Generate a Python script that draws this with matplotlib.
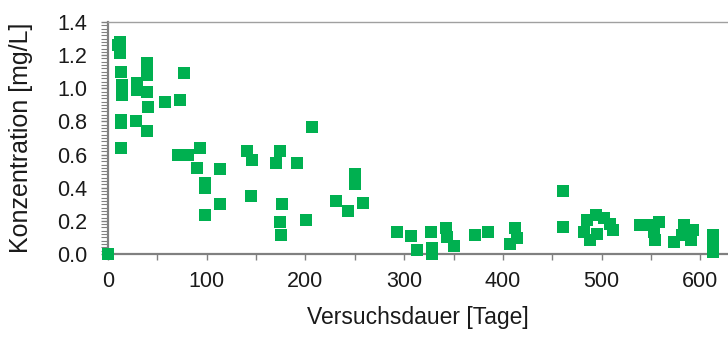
import matplotlib
matplotlib.use("Agg")
import matplotlib.pyplot as plt
from matplotlib.ticker import MultipleLocator, FormatStrFormatter

plt.rcParams['font.family'] = ['Liberation Sans', 'DejaVu Sans']

days = [0, 10, 12, 12, 13, 14, 14, 13, 13, 13,
        29, 29, 39, 39, 39, 41, 28, 39, 58, 73, 77,
        71, 81, 93, 90, 98, 98, 113, 98, 113,
        141, 146, 145, 174, 170, 176, 174, 175, 191, 201, 207,
        250, 250, 231, 243, 258,
        293, 307, 313, 327, 328, 328, 342, 343, 350, 372, 385, 412, 414, 407,
        461, 461, 482, 485, 494, 488, 502, 512, 508, 495,
        539, 548, 558, 554, 553, 573, 583, 581, 593, 591, 613, 613, 613]
conc = [0.0, 1.26, 1.28, 1.21, 1.10, 1.02, 0.96, 0.81, 0.79, 0.64,
        1.03, 0.99, 1.15, 1.08, 0.98, 0.89, 0.80, 0.74, 0.92, 0.93, 1.09,
        0.60, 0.60, 0.64, 0.52, 0.43, 0.40, 0.51, 0.235, 0.30,
        0.62, 0.57, 0.35, 0.62, 0.55, 0.30, 0.195, 0.115, 0.55, 0.205, 0.765,
        0.48, 0.42, 0.32, 0.26, 0.31,
        0.13, 0.11, 0.025, 0.13, 0.035, 0.0, 0.155, 0.105, 0.05, 0.115, 0.13, 0.155, 0.095, 0.06,
        0.38, 0.16, 0.135, 0.205, 0.235, 0.085, 0.215, 0.145, 0.18, 0.12,
        0.175, 0.175, 0.195, 0.085, 0.13, 0.075, 0.175, 0.115, 0.145, 0.085, 0.115, 0.045, 0.015]

fig = plt.figure(figsize=(7.28, 3.38), dpi=100)
ax = fig.add_axes([108/728, 84/338, 1 - 108/728, (254-22)/338])
ax.plot(days, conc, linestyle='none', marker='s', markersize=8.8,
        color='#00B050', markeredgewidth=0, clip_on=False, zorder=3)

ax.set_xlim(0, 628)
ax.set_ylim(0, 1.4)
ax.xaxis.set_major_locator(MultipleLocator(100))
ax.xaxis.set_minor_locator(MultipleLocator(50))
ax.yaxis.set_major_locator(MultipleLocator(0.2))
ax.yaxis.set_minor_locator(MultipleLocator(0.02))
ax.yaxis.set_major_formatter(FormatStrFormatter('%.1f'))

gray = '#808080'
for s in ['left', 'bottom']:
    ax.spines[s].set_color(gray)
    ax.spines[s].set_linewidth(1.6)
ax.spines['top'].set_color('#a0a0a0')
ax.spines['top'].set_linewidth(1.0)
ax.spines['right'].set_visible(False)

ax.tick_params(axis='both', which='both', direction='out', color=gray,
               labelsize=15.5, labelcolor='#1a1a1a')
ax.tick_params(axis='y', which='major', length=5, width=1, pad=10)
ax.tick_params(axis='y', which='minor', length=5, width=0.8)
ax.tick_params(axis='x', which='major', length=4, width=1, pad=8)
ax.tick_params(axis='x', which='minor', length=4, width=1)

ax.set_xlabel('Versuchsdauer [Tage]', fontsize=16.5, color='#1a1a1a', labelpad=10)
ax.set_ylabel('Konzentration [mg/L]', fontsize=18, color='#1a1a1a')
ax.yaxis.set_label_coords(-0.121, 0.5)

fig.savefig('out.png', dpi=100)
